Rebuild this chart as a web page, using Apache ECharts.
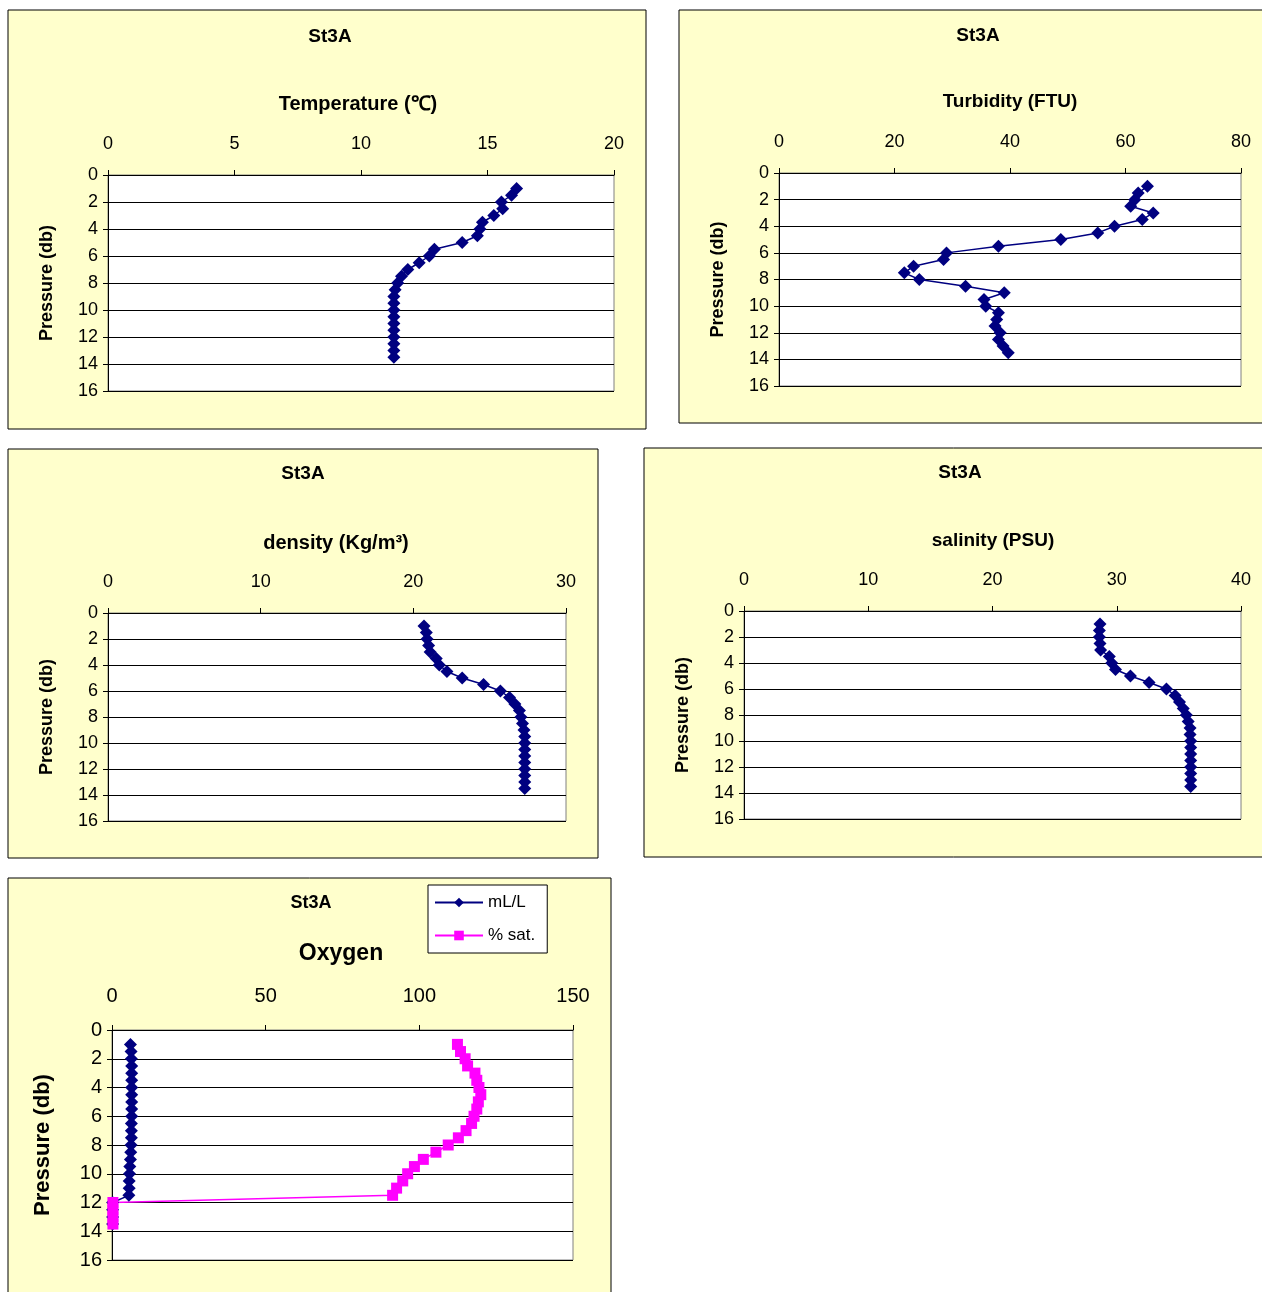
<!DOCTYPE html>
<html>
<head>
<meta charset="utf-8">
<script src="https://cdn.jsdelivr.net/npm/echarts@6/dist/echarts.min.js"></script>
<style>
html,body{margin:0;padding:0;background:#fff;}
#c{width:1262px;height:1292px;}
</style>
</head>
<body>
<div id="c"></div>
<script>
// ---- data ----
const stationName = 'St3A';
const depth = [1.0, 1.5, 2.0, 2.5, 3.0, 3.5, 4.0, 4.5, 5.0, 5.5, 6.0, 6.5, 7.0, 7.5, 8.0, 8.5, 9.0, 9.5, 10.0, 10.5, 11.0, 11.5, 12.0, 12.5, 13.0, 13.5];
const temperature = [16.15, 15.95, 15.55, 15.6, 15.25, 14.8, 14.7, 14.6, 14.0, 12.9, 12.7, 12.3, 11.85, 11.6, 11.45, 11.35, 11.3, 11.3, 11.3, 11.3, 11.3, 11.3, 11.3, 11.3, 11.3, 11.3];
const turbidity = [63.8, 62.2, 61.6, 60.9, 64.8, 62.9, 58.1, 55.2, 48.8, 38.0, 29.0, 28.5, 23.3, 21.7, 24.3, 32.3, 39.0, 35.5, 35.8, 38.0, 37.7, 37.4, 38.3, 38.0, 38.8, 39.7];
const density = [20.7, 20.85, 20.9, 21.0, 21.1, 21.5, 21.7, 22.2, 23.2, 24.6, 25.7, 26.3, 26.65, 26.95, 27.05, 27.15, 27.25, 27.3, 27.3, 27.3, 27.3, 27.3, 27.3, 27.3, 27.3, 27.3];
const salinity = [28.65, 28.6, 28.6, 28.65, 28.7, 29.4, 29.6, 29.9, 31.1, 32.6, 34.0, 34.7, 35.05, 35.35, 35.6, 35.75, 35.9, 35.9, 35.95, 35.95, 35.95, 35.95, 35.95, 35.95, 35.95, 35.95];
const oxygenMlL = [6.0, 6.2, 6.3, 6.4, 6.4, 6.4, 6.4, 6.4, 6.4, 6.4, 6.4, 6.3, 6.3, 6.3, 6.2, 6.1, 6.0, 5.8, 5.7, 5.6, 5.6, 5.5, 0.2, 0.2, 0.2, 0.2];
const oxygenSat = [112.4, 113.4, 114.9, 115.7, 118.1, 118.7, 119.4, 120.0, 119.2, 118.7, 117.8, 117.0, 115.2, 112.7, 109.4, 105.4, 101.3, 98.4, 96.2, 94.6, 92.6, 91.3, 0.3, 0.3, 0.3, 0.3];
const panelTitles = ['Temperature (\u2103)', 'Turbidity (FTU)', 'density (Kg/m\u00b3)', 'salinity (PSU)', 'Oxygen'];
const xMax = [20, 80, 30, 40, 150];
const xInterval = [5, 20, 10, 10, 50];
const yName = 'Pressure (db)';
const legendNames = ['mL/L', '% sat.'];

// ---- layout ----
const FONT = '"Liberation Sans", Arial, sans-serif';
const panels = [
  {box:[8,10,638,419], grid:[108,175,506,216], t1:[330,37,19], t2:[358,104,20], lab:18, nm:18, gap:52, lm:22},
  {box:[679,10,640,413], grid:[779,173,462,213], t1:[978,36,19], t2:[1010,102,19], lab:18, nm:18, gap:52, lm:22},
  {box:[8,449,590,409], grid:[108,613,458,208], t1:[303,474,19], t2:[336,543,20], lab:18, nm:18, gap:52, lm:22},
  {box:[644,448,640,409], grid:[744,611,497,208], t1:[960,473,19], t2:[993,541,19], lab:18, nm:18, gap:52, lm:22},
  {box:[8,878,603,430], grid:[112,1030,461,230], t1:[311,903,18], t2:[341,954,23], lab:20, nm:22, gap:58, lm:24}
];

const graphic = [];
panels.forEach((p, i) => {
  graphic.push({type:'rect', z:-10, shape:{x:p.box[0], y:p.box[1], width:p.box[2], height:p.box[3]},
    style:{fill:'#FFFFCC', stroke:'#000', lineWidth:1}});
  graphic.push({type:'text', x:p.t1[0], y:p.t1[1], style:{text:stationName, font:'bold '+p.t1[2]+'px '+FONT,
    textAlign:'center', textVerticalAlign:'middle', align:'center', verticalAlign:'middle', fill:'#000'}});
  graphic.push({type:'text', x:p.t2[0], y:p.t2[1], style:{text:panelTitles[i], font:'bold '+p.t2[2]+'px '+FONT,
    textAlign:'center', textVerticalAlign:'middle', align:'center', verticalAlign:'middle', fill:'#000'}});
});

const grids = panels.map(p => ({left:p.grid[0], top:p.grid[1], width:p.grid[2], height:p.grid[3],
  show:true, backgroundColor:'#fff', borderColor:'#808080', borderWidth:1, containLabel:false}));

const xAxes = panels.map((p, i) => ({
  type:'value', gridIndex:i, position:'top', min:0, max:xMax[i], interval:xInterval[i],
  axisLine:{show:true, onZero:false, lineStyle:{color:'#000', width:1}},
  axisTick:{show:true, inside:false, length:5, lineStyle:{color:'#000'}},
  axisLabel:{color:'#000', fontSize:p.lab, fontFamily:FONT, margin:p.lm},
  splitLine:{show:false}
}));
const yAxes = panels.map((p, i) => ({
  type:'value', gridIndex:i, inverse:true, min:0, max:16, interval:2,
  name:yName, nameLocation:'middle', nameRotate:90, nameGap:p.gap,
  nameTextStyle:{color:'#000', fontSize:p.nm, fontWeight:'bold', fontFamily:FONT},
  axisLine:{show:true, onZero:false, lineStyle:{color:'#000', width:1}},
  axisTick:{show:true, inside:false, length:5, lineStyle:{color:'#000'}},
  axisLabel:{color:'#000', fontSize:p.lab, fontFamily:FONT, margin:10},
  splitLine:{show:true, lineStyle:{color:'#000', width:1}}
}));

function pairs(xs){ return xs.map((v, k) => [v, depth[k]]); }
const navy = '#000080', pink = '#FF00FF';
function ser(name, xs, idx, color, symbol, size){
  return {name:name, type:'line', xAxisIndex:idx, yAxisIndex:idx, data:pairs(xs),
    symbol:symbol, symbolSize:size, showSymbol:true, animation:false,
    lineStyle:{color:color, width:1.5}, itemStyle:{color:color, borderWidth:0}};
}
const series = [
  ser('Temperature', temperature, 0, navy, 'diamond', 13),
  ser('Turbidity', turbidity, 1, navy, 'diamond', 13),
  ser('Density', density, 2, navy, 'diamond', 13),
  ser('Salinity', salinity, 3, navy, 'diamond', 13),
  ser(legendNames[0], oxygenMlL, 4, navy, 'diamond', 13),
  ser(legendNames[1], oxygenSat, 4, pink, 'rect', 11)
];

const chart = echarts.init(document.getElementById('c'), null, {renderer:'canvas'});
chart.setOption({
  animation:false,
  backgroundColor:'#fff',
  graphic:graphic,
  grid:grids,
  xAxis:xAxes,
  yAxis:yAxes,
  legend:{data:legendNames, orient:'vertical', left:428, top:885, width:121,
    backgroundColor:'#fff', borderColor:'#000', borderWidth:1, padding:[9,12,9,6],
    itemWidth:48, itemHeight:12, itemGap:16,
    textStyle:{color:'#000', fontSize:17, fontFamily:FONT}},
  series:series
});
</script>
</body>
</html>
